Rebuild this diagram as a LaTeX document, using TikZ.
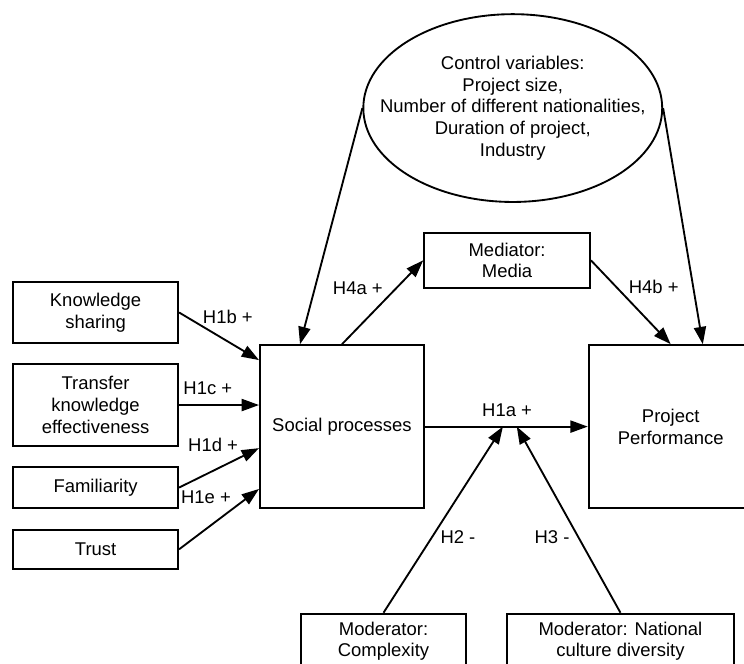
\documentclass[tikz,border=0pt]{standalone}
\usepackage{fontspec}
\setmainfont{Liberation Sans}
\usetikzlibrary{calc,shapes.geometric,arrows.meta,positioning}

\begin{document}
\begin{tikzpicture}[
  font=\fontsize{13.9}{16.3}\selectfont,
  % --- Estilos ---
  varbox/.style={
    rectangle,
    draw,
    line width=1.4pt,
    align=center,
    inner sep=0pt,
    minimum width=4.37cm
  },
  control/.style={
    ellipse,
    draw,
    line width=1.4pt,
    align=center,
    inner xsep=-0.73cm, % la elipse no debe crecer con el texto
    inner ysep=0pt,
    minimum width=7.91cm,
    minimum height=4.97cm
  },
  hyp/.style={
    inner sep=0pt
  },
  line/.style={
    -{Triangle[length=4.6mm, width=3.2mm]},
    line width=1.4pt,
    draw=black
  }
]

% ---- MARCO ----
\useasboundingbox (0,0) rectangle (19.69,17.57);
\clip (0,0) rectangle (19.69,17.57);

% ---- VARIABLES DE CONTROL ----
\node[control] (ctrl) at (13.57,14.71) {Control variables:\\Project size,\\Number of different nationalities,\\Duration of project,\\Industry};

% ---- VARIABLES INDEPENDIENTES ----
\node[varbox, minimum height=1.61cm] (know) at (2.53,9.30) {Knowledge\\sharing};
\node[varbox, minimum height=2.17cm, below=0.51cm of know] (transfer) {Transfer\\knowledge\\effectiveness};
\node[varbox, minimum height=1.08cm, below=0.51cm of transfer] (famil) {Familiarity};
\node[varbox, minimum height=1.03cm, below=0.53cm of famil] (trust) {Trust};

% ---- CENTRO ----
\node[varbox, minimum width=4.34cm, minimum height=4.31cm] (social) at (9.05,6.28) {Social processes};
\node[varbox, minimum width=4.34cm, minimum height=4.31cm] (perf) at (17.75,6.28) {Project\\Performance};
\node[varbox, minimum width=4.39cm, minimum height=1.46cm] (media) at (13.42,10.68) {Mediator:\\Media};

% ---- MODERADORES ----
\node[varbox, minimum height=1.46cm] (complex) at (10.15,0.60) {Moderator:\\Complexity};
\node[varbox, minimum width=6.01cm, minimum height=1.46cm] (national) at (16.42,0.60) {Moderator: National\\culture diversity};

% ---- HIPOTESIS ----
\node[hyp] (h1b) at (6.03,9.18) {H1b +};
\node[hyp] (h1c) at (5.50,7.30) {H1c +};
\node[hyp] (h1d) at (5.64,5.79) {H1d +};
\node[hyp] (h1e) at (5.45,4.42) {H1e +};
\node[hyp] (h4a) at (9.47,9.95) {H4a +};
\node[hyp] (h4b) at (17.30,9.98) {H4b +};
\node[hyp] (h1a) at (13.42,6.72) {H1a +};
\node[hyp] (h2) at (12.12,3.36) {H2 -};
\node[hyp] (h3) at (14.61,3.36) {H3 -};

% ---- CONEXIONES ----
% Hacia procesos sociales
\draw[line] (know.east) -- ([yshift=1.76cm]social.west);
\draw[line] (transfer.east) -- (transfer.east -| social.west);
\draw[line] (famil.east) -- ([yshift=-0.57cm]social.west);
\draw[line] (trust.east) -- ([yshift=-1.65cm]social.west);

% Control
\draw[line] (ctrl.west) -- ([xshift=-1.11cm]social.north);
\draw[line] (ctrl.east) -- ([xshift=0.85cm]perf.north);

% Mediador y efecto directo
\draw[line] (social.north) -- (media.west);
\draw[line] (media.east) -- (perf.north);
\draw[line] (social.east) -- (perf.west);

% Moderadores
\coordinate (m1) at ($(social.east)!0.479!(perf.west)$);
\coordinate (m2) at ($(social.east)!0.564!(perf.west)$);
\draw[line] (complex.north) -- (m1);
\draw[line] (national.north) -- (m2);

\end{tikzpicture}
\end{document}
